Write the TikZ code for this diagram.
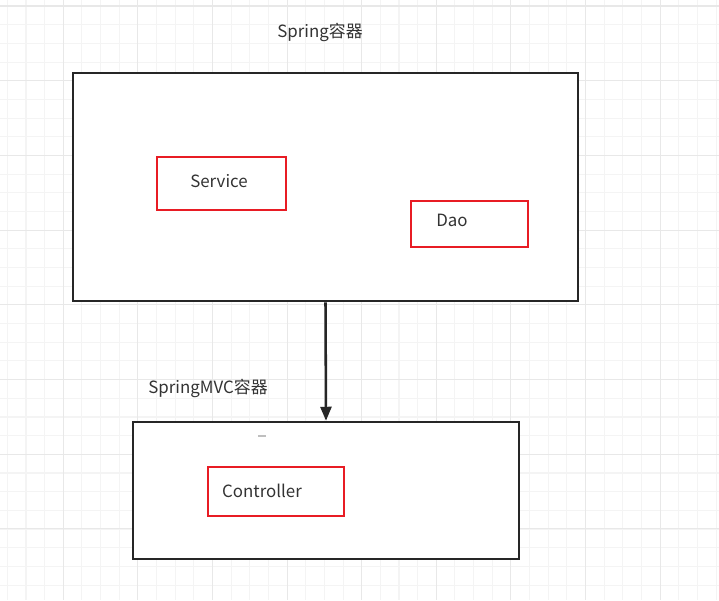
\documentclass[tikz,border=0pt]{standalone}
\usepackage{fontspec}
\setmainfont{Noto Sans CJK SC}
\usepackage{tikz}
\usetikzlibrary{arrows.meta}
\definecolor{boxred}{RGB}{232,28,36}
\definecolor{txtgray}{RGB}{51,51,51}
\definecolor{minorgrid}{RGB}{244,244,244}
\definecolor{majorgrid}{RGB}{232,232,232}

\begin{document}
\begin{tikzpicture}[x=0.02cm,y=-0.02cm,
  container/.style={draw=black!85,line width=1.45pt,inner sep=0pt},
  redbox/.style={draw=boxred,line width=1.1pt,inner sep=0pt,text=txtgray,font=\fontsize{9.6}{11}\selectfont},
  caption/.style={text=txtgray,font=\fontsize{9.6}{11}\selectfont,inner sep=0pt}]
\useasboundingbox (0,0) rectangle (719,600);
\fill[white] (0,0) rectangle (719,600);
\foreach \i in {0,...,38}
  \draw[minorgrid,line width=0.6pt] ({7.35+18.65*\i},0) -- ++(0,600);
\foreach \j in {0,...,31}
  \draw[minorgrid,line width=0.6pt] (0,{6+18.68*\j}) -- ++(719,0);
\foreach \i in {0,...,8}
  \draw[majorgrid,line width=0.6pt] ({63.3+74.6*\i},0) -- ++(0,600);
\foreach \j in {0,...,7}
  \draw[majorgrid,line width=0.6pt] (0,{6+74.7*\j}) -- ++(719,0);

\node[caption] (springlabel) at (320,32) {Spring容器};
\node[container,fill=white,minimum width=10.1cm,minimum height=4.56cm] (spring) at (325.5,187) {};
\node[redbox,minimum width=2.58cm,minimum height=1.06cm,label={[caption,xshift=-0.05cm,yshift=0.05cm]center:Service}] (service) at (221.5,183.5) {};
\node[redbox,minimum width=2.34cm,minimum height=0.92cm,label={[caption,xshift=-0.35cm,yshift=0.08cm]center:Dao}] (dao) at (469.5,224) {};

\node[caption] (mvclabel) at (208,388) {SpringMVC容器};
\node[container,fill=white,minimum width=7.72cm,minimum height=2.74cm] (mvc) at (326,490.5) {};
\node[redbox,minimum width=2.72cm,minimum height=0.98cm,label={[caption,xshift=-0.28cm,yshift=0.01cm]center:Controller}] (controller) at (276,491.5) {};
\coordinate (dashl) at (258,436);
\coordinate (dashr) at (266,436);
\draw[black!25,line width=0.8pt] (dashl) -- (dashr);

\draw[black!85,line width=1.45pt,-{Triangle[length=0.28cm,width=0.22cm]}] (spring.south) -- (mvc.north);
\end{tikzpicture}
\end{document}
